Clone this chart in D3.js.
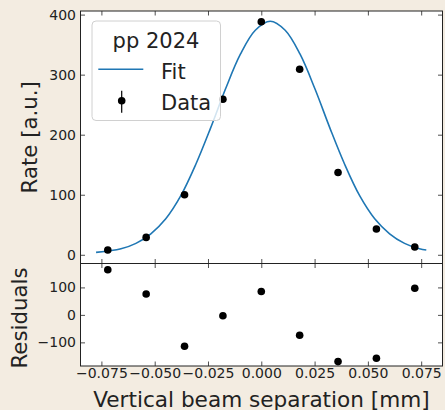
<!DOCTYPE html>
<html>
<head>
<meta charset="utf-8">
<script src="https://cdn.jsdelivr.net/npm/d3@7"></script>
<style>
  html, body { margin: 0; padding: 0; background: #f3ece1; }
  svg { display: block; }
  text { font-family: "DejaVu Sans", sans-serif; fill: #222; }
</style>
</head>
<body>
<svg id="chart" width="445" height="410"></svg>
<script>
// Measured scan points: beam separation [mm], rate and fit residuals
const separation = [-0.072, -0.054, -0.036, -0.018, 0.0, 0.018, 0.036, 0.054, 0.072];
const rate       = [8, 29, 100, 259, 388, 309, 137, 43, 13];
const residuals  = [164, 76, -114, -3, 85, -74, -170, -158, 97];

// Fitted curve sampled across the scan range
const fitX = [-0.0775, -0.0658, -0.0588, -0.0518, -0.0448, -0.0378, -0.0308, -0.0238,
              -0.0168, -0.0098, -0.0028, 0.0042, 0.0112, 0.0182, 0.0252, 0.0322,
              0.0392, 0.0462, 0.0532, 0.0602, 0.0672, 0.0742, 0.0774];
const fitY = [4, 10, 19, 35, 60, 98, 150, 211, 276, 334, 374, 389, 374, 334, 276, 211,
              150, 98, 60, 35, 19, 10, 8];

// Tick values
const xTicks = [-0.075, -0.05, -0.025, 0, 0.025, 0.05, 0.075];
const rateTicks = [0, 100, 200, 300, 400];
const residTicks = [-100, 0, 100];

const svg = d3.select("#chart");
const L = 80.5, R = 442.5, T = 11, MID = 263.5, B = 366;
const TICK = 4.5;
const fitColor = "#1f77b4";

const x = d3.scaleLinear().domain([-0.0848, 0.085]).range([L, R]);
const y = d3.scaleLinear().domain([-14.5, 406]).range([MID, T]);
const yr = d3.scaleLinear().domain([-186, 187]).range([B, MID]);

// Panel backgrounds
svg.append("rect").attr("x", L).attr("y", T).attr("width", R - L).attr("height", MID - T).attr("fill", "#fff");
svg.append("rect").attr("x", L).attr("y", MID).attr("width", R - L).attr("height", B - MID).attr("fill", "#fff");

const defs = svg.append("defs");
defs.append("clipPath").attr("id", "clipTop").append("rect")
  .attr("x", L).attr("y", T).attr("width", R - L).attr("height", MID - T);
defs.append("clipPath").attr("id", "clipBot").append("rect")
  .attr("x", L).attr("y", MID).attr("width", R - L).attr("height", B - MID);

// Inward ticks on every side of a panel
function styleAxis(g) {
  g.select(".domain").remove();
  g.selectAll(".tick line").attr("stroke", "#222").attr("stroke-width", 0.8);
  g.selectAll("text").style("font-size", "14px").attr("fill", "#222");
}
function panelTicks(ys, yTicks, top, bottom, showX) {
  svg.append("g").attr("transform", `translate(${L},0)`)
    .call(d3.axisLeft(ys).tickValues(yTicks).tickSize(-TICK).tickPadding(4.5).tickFormat(d3.format("d")))
    .call(styleAxis);
  svg.append("g").attr("transform", `translate(${R},0)`)
    .call(d3.axisRight(ys).tickValues(yTicks).tickSize(-TICK).tickFormat(""))
    .call(styleAxis);
  svg.append("g").attr("transform", `translate(0,${top})`)
    .call(d3.axisTop(x).tickValues(xTicks).tickSize(-TICK).tickFormat(""))
    .call(styleAxis);
  svg.append("g").attr("transform", `translate(0,${bottom})`)
    .call(d3.axisBottom(x).tickValues(xTicks).tickSize(-TICK).tickPadding(1.6)
      .tickFormat(showX ? d3.format(".3f") : ""))
    .call(styleAxis);
}
panelTicks(y, rateTicks, T, MID, false);
panelTicks(yr, residTicks, MID, B, true);

// Fit curve
const line = d3.line().x((d, i) => x(fitX[i])).y(d => y(d)).curve(d3.curveCatmullRom);
svg.append("path").datum(fitY)
  .attr("clip-path", "url(#clipTop)")
  .attr("d", line).attr("fill", "none")
  .attr("stroke", fitColor).attr("stroke-width", 1.6);

// Data points
svg.append("g").attr("clip-path", "url(#clipTop)")
  .selectAll("circle").data(rate).join("circle")
  .attr("cx", (d, i) => x(separation[i])).attr("cy", d => y(d))
  .attr("r", 3.8).attr("fill", "#000");

// Residual points
svg.append("g").attr("clip-path", "url(#clipBot)")
  .selectAll("circle").data(residuals).join("circle")
  .attr("cx", (d, i) => x(separation[i])).attr("cy", d => yr(d))
  .attr("r", 3.8).attr("fill", "#000");

// Frames
svg.append("rect").attr("x", L).attr("y", T).attr("width", R - L).attr("height", MID - T)
  .attr("fill", "none").attr("stroke", "#222").attr("stroke-width", 1);
svg.append("rect").attr("x", L).attr("y", MID).attr("width", R - L).attr("height", B - MID)
  .attr("fill", "none").attr("stroke", "#222").attr("stroke-width", 1);

// Legend
const lg = svg.append("g");
lg.append("rect").attr("x", 92).attr("y", 21).attr("width", 128.5).attr("height", 99.5)
  .attr("rx", 4).attr("fill", "#fff").attr("fill-opacity", 0.8)
  .attr("stroke", "#d0d0d0").attr("stroke-width", 1);
lg.append("text").attr("x", 156).attr("y", 47.5).attr("text-anchor", "middle")
  .style("font-size", "21px").text("pp 2024");
lg.append("line").attr("x1", 98.3).attr("x2", 143.3).attr("y1", 69.3).attr("y2", 69.3)
  .attr("stroke", fitColor).attr("stroke-width", 1.6);
lg.append("text").attr("x", 161).attr("y", 79).style("font-size", "21px").text("Fit");
lg.append("line").attr("x1", 121.7).attr("x2", 121.7).attr("y1", 90.7).attr("y2", 112.7)
  .attr("stroke", "#000").attr("stroke-width", 1.2);
lg.append("circle").attr("cx", 121.7).attr("cy", 100.7).attr("r", 3.8).attr("fill", "#000");
lg.append("text").attr("x", 161).attr("y", 110).style("font-size", "21px").text("Data");

// Axis titles
svg.append("text").attr("x", (L + R) / 2).attr("y", 406.5).attr("text-anchor", "middle")
  .style("font-size", "21.6px").text("Vertical beam separation [mm]");
svg.append("text").attr("transform", `translate(37,${(T + MID) / 2}) rotate(-90)`)
  .attr("text-anchor", "middle").style("font-size", "21.3px").text("Rate [a.u.]");
svg.append("text").attr("transform", `translate(27,318) rotate(-90)`)
  .attr("text-anchor", "middle").style("font-size", "21.3px").text("Residuals");
</script>
</body>
</html>
